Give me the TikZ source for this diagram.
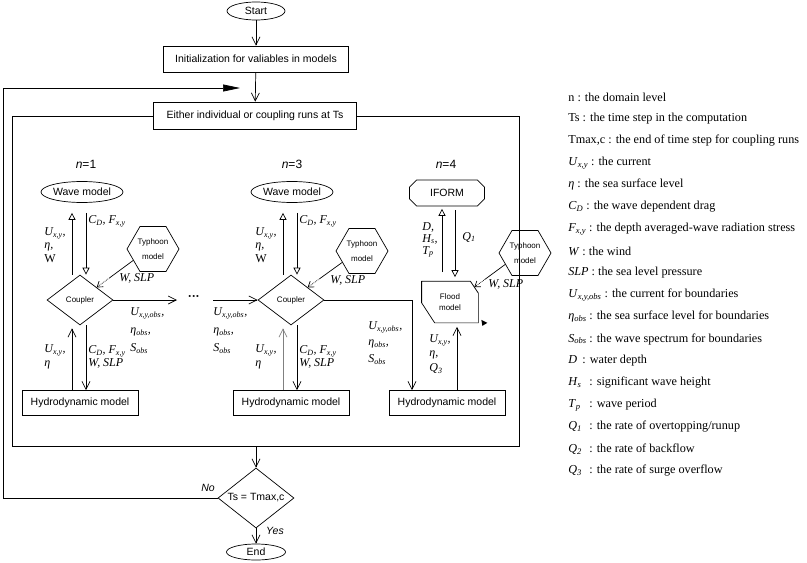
\documentclass[tikz,border=0pt]{standalone}
\usepackage{fontspec}
\setmainfont{Liberation Sans}
\newfontfamily\tnr{Liberation Serif}
\usetikzlibrary{arrows.meta,shapes.geometric,shapes.misc}

\newcommand{\vsub}[2]{\textit{#1}\textsubscript{\textit{#2}}}

\tikzset{
  box/.style={draw, rectangle, minimum width=116pt, minimum height=25pt, inner sep=2pt, font=\fontsize{10.5}{12}\selectfont},
  oval/.style={draw, ellipse, inner sep=0pt, font=\fontsize{10.5}{12}\selectfont},
  coupler/.style={draw, diamond, minimum width=66pt, minimum height=50pt, inner sep=0pt, font=\fontsize{8}{9}\selectfont},
  typhoon/.style={draw, regular polygon, regular polygon sides=6, minimum size=52pt, inner sep=0pt, align=center, font=\fontsize{8}{15}\selectfont},
  lbl/.style={anchor=west, inner sep=0pt, align=left, font=\tnr\fontsize{12}{13.5}\selectfont\itshape},
  obs/.style={lbl, font=\tnr\fontsize{12}{18}\selectfont\itshape},
  nlevel/.style={font=\fontsize{12}{14}\selectfont},
  legendtxt/.style={anchor=west, inner sep=0pt, font=\tnr\fontsize{12.2}{14}\selectfont},
  vee/.style={-{Straight Barb[length=8pt,width=8pt]}},
  opentri/.style={-{Triangle[open,length=7pt,width=7pt]}},
  dotvee/.style={densely dotted, -{Straight Barb[length=5pt,width=7pt]}},
}

\begin{document}
\begin{tikzpicture}[x=1pt, y=-1pt, line width=0.7pt] % 以像素为单位
  \useasboundingbox (0,0) rectangle (807,563);

  % 1. 主流程: Start -> 初始化 -> 耦合运行 -> 判断 -> End
  \node[oval, minimum width=58pt, minimum height=18pt] (start) at (256,11) {Start};
  \node[box, minimum width=185pt, minimum height=26pt] (init) at (256,59) {Initialization for valiables in models};
  \node[draw, minimum width=507pt, minimum height=330pt, inner sep=0pt] (frame) at (265.5,281) {};
  \node[box, fill=white, minimum width=203pt, minimum height=27pt] (run) at (255,115.5) {Either individual or coupling runs at Ts};
  \node[draw, diamond, minimum width=76pt, minimum height=60pt, inner sep=0pt, font=\fontsize{10.5}{12}\selectfont] (dec) at (256,498) {\makebox[30pt]{Ts = Tmax,c}};
  \node[oval, minimum width=59pt, minimum height=16pt] (end) at (256,552) {End};

  \draw[vee] (start) -- (init);
  \draw[vee] (init) -- (run);
  \draw[vee] (frame.south -| dec.north) -- (dec);
  \draw[vee] (dec) -- (end);

  % 回路 (No)
  \coordinate (lpA) at (3,498);
  \coordinate (lpB) at (240,88);
  \draw[-{Triangle[length=17pt,width=7pt]}] (dec.west) -- (lpA) |- (lpB);
  \node[font=\fontsize{10.5}{12}\selectfont\itshape] (no) at (208,488) {No};
  \node[font=\fontsize{10.5}{12}\selectfont\itshape] (yes) at (275,531) {Yes};

  % 2. n=1 一列
  \node[nlevel] (n1) at (86,164) {\textit{n}=1};
  \node[oval, minimum width=78pt, minimum height=21pt] (wave1) at (82,192) {Wave model};
  \node[coupler] (cp1) at (80,300) {\makebox[20pt]{Coupler}};
  \node[typhoon] (ty1) at (153,249) {Typhoon\\model};
  \node[box] (hy1) at (80,403) {Hydrodynamic model};

  \draw[opentri, shorten >=10pt] ([xshift=-8pt]cp1.north) -- ([xshift=-10pt]wave1.south);
  \draw[opentri, shorten <=10pt] ([xshift=4pt]wave1.south) -- ([xshift=6pt]cp1.north);
  \draw[vee, shorten >=3pt] ([xshift=-8pt]hy1.north) -- ([xshift=-8pt]cp1.south);
  \draw[vee] ([xshift=6pt]cp1.south) -- ([xshift=6pt]hy1.north);

  \path (ty1.210) -- coordinate[pos=0.65] (tm1) (cp1.north east);
  \draw (ty1.210) -- (tm1);
  \draw[dotvee] (tm1) -- (cp1.north east);

  \node[lbl] (u1) at (44,245) {\vsub{U}{x,y},\\η,\\\textup{W}};
  \node[lbl] (c1) at (88,221) {\vsub{C}{D}, \vsub{F}{x,y}};
  \node[lbl] (w1) at (119,278) {W, SLP};
  \node[lbl] (u1b) at (44,357) {\vsub{U}{x,y},\\η};
  \node[lbl] (c1b) at (88,357) {\vsub{C}{D}, \vsub{F}{x,y}\\W, SLP};
  \node[obs] (o1) at (130,331) {\vsub{U}{x,y,obs},\\\vsub{η}{obs},\\\vsub{S}{obs}};

  % 中间省略号
  \coordinate (d1) at (177,300);
  \node[font=\fontsize{12}{12}\selectfont\bfseries] (gap) at (194,298) {···};
  \coordinate (d2) at (213,300);
  \draw[vee] (cp1.east) -- (d1);
  \node[obs] (o1b) at (213,331) {\vsub{U}{x,y,obs},\\\vsub{η}{obs},\\\vsub{S}{obs}};

  % 3. n=3 一列
  \node[nlevel] (n3) at (292,164) {\textit{n}=3};
  \node[oval, minimum width=78pt, minimum height=21pt] (wave2) at (292,192) {Wave model};
  \node[coupler] (cp2) at (291,300) {\makebox[20pt]{Coupler}};
  \node[typhoon] (ty2) at (362,251) {Typhoon\\model};
  \node[box] (hy2) at (291,403) {Hydrodynamic model};

  \draw[vee] (d2) -- (cp2.west);
  \draw[opentri, shorten >=10pt] ([xshift=-8pt]cp2.north) -- ([xshift=-9pt]wave2.south);
  \draw[opentri, shorten <=10pt] ([xshift=5pt]wave2.south) -- ([xshift=6pt]cp2.north);
  \draw[vee, gray, shorten >=3pt] ([xshift=-8pt]hy2.north) -- ([xshift=-8pt]cp2.south);
  \draw[vee] ([xshift=6pt]cp2.south) -- ([xshift=6pt]hy2.north);

  \path (ty2.210) -- coordinate[pos=0.65] (tm2) (cp2.north east);
  \draw (ty2.210) -- (tm2);
  \draw[dotvee] (tm2) -- (cp2.north east);

  \node[lbl] (u2) at (255,245) {\vsub{U}{x,y},\\η,\\\textup{W}};
  \node[lbl] (c2) at (299,221) {\vsub{C}{D}, \vsub{F}{x,y}};
  \node[lbl] (w2) at (330,280) {W, SLP};
  \node[lbl] (u2b) at (255,357) {\vsub{U}{x,y},\\η};
  \node[lbl] (c2b) at (299,357) {\vsub{C}{D}, \vsub{F}{x,y}\\W, SLP};

  % 4. n=4 一列
  \node[nlevel] (n4) at (446,164) {\textit{n}=4};
  \node[draw, chamfered rectangle, chamfered rectangle xsep=7pt, minimum width=75pt, minimum height=26pt, inner sep=0pt, font=\fontsize{10.5}{12}\selectfont] (iform) at (447,193) {IFORM};
  \node[minimum width=56pt, minimum height=41pt, inner sep=0pt, align=center, font=\fontsize{8}{11}\selectfont] (fl) at (450,302) {Flood\\model};
  \node[typhoon] (ty3) at (525,253) {Typhoon\\model};
  \node[box] (hy3) at (447,403) {Hydrodynamic model};

  \draw (fl.north west) -- ([xshift=-8pt]fl.north east) -- ([yshift=-12pt]fl.north east) -- (fl.south east)
    -- ([xshift=13pt]fl.south west) -- ([yshift=20pt]fl.south west) -- cycle;
  \draw[line width=1.6pt] (fl.north west) -- ([yshift=20pt]fl.south west);
  \fill (fl.south east) ++(3,-3) -- ++(6,3) -- ++(-5,3) -- cycle;

  \draw[vee] (cp2.east) -| ([xshift=-35pt]hy3.north);
  \node[obs, font=\tnr\fontsize{12}{16.5}\selectfont\itshape] (o2) at (368,343) {\vsub{U}{x,y,obs},\\\vsub{η}{obs},\\\vsub{S}{obs}};

  \draw[opentri, shorten <=9pt, shorten >=2.5pt] ([xshift=-8pt]fl.north) -- ([xshift=-5pt]iform.south);
  \draw[opentri, shorten <=4pt, shorten >=4pt] ([xshift=8pt]iform.south) -- ([xshift=5pt]fl.north);
  \draw[vee, shorten >=4pt] ([xshift=10pt]hy3.north) -- ([xshift=7pt]fl.south);

  \path (ty3.210) -- coordinate[pos=0.65] (tm3) ([xshift=-4pt,yshift=-6pt]fl.north east);
  \draw (ty3.210) -- (tm3);
  \draw[dotvee] (tm3) -- ([xshift=-4pt,yshift=-6pt]fl.north east);

  \node[lbl, font=\tnr\fontsize{12}{12}\selectfont\itshape] (dht) at (422,240) {\textit{D},\\\vsub{H}{s},\\\vsub{T}{p}};
  \node[lbl] (q1) at (462,237) {\vsub{Q}{1}};
  \node[lbl] (w3) at (488,284) {W, SLP};
  \node[lbl, font=\tnr\fontsize{12}{14.5}\selectfont\itshape] (uq) at (429,354) {\vsub{U}{x,y},\\η,\\\vsub{Q}{3}};

  % 5. 右侧符号说明
  \foreach \txt [count=\i] in {
    {n : the domain level},
    {Ts : the time step in the computation},
    {Tmax,c : the end of time step for coupling runs},
    {\vsub{U}{x,y} : the current},
    {\textit{η} : the sea surface level},
    {\vsub{C}{D} : the wave dependent drag},
    {\vsub{F}{x,y} : the depth averaged-wave radiation stress},
    {\textit{W} : the wind},
    {\textit{SLP} : the sea level pressure},
    {\vsub{U}{x,y,obs} : the current for boundaries},
    {\makebox[21pt][l]{\vsub{η}{obs}}: the sea surface level for boundaries},
    {\makebox[21pt][l]{\vsub{S}{obs}}: the wave spectrum for boundaries},
    {\makebox[14pt][l]{\textit{D}}: water depth},
    {\makebox[21pt][l]{\vsub{H}{s}}: significant wave height},
    {\makebox[21pt][l]{\vsub{T}{p}}: wave period},
    {\makebox[21pt][l]{\vsub{Q}{1}}: the rate of overtopping/runup},
    {\makebox[21pt][l]{\vsub{Q}{2}}: the rate of backflow},
    {\makebox[21pt][l]{\vsub{Q}{3}}: the rate of surge overflow}}
    \node[legendtxt] (lg\i) at (568,75+22*\i) {\txt};

\end{tikzpicture}
\end{document}
